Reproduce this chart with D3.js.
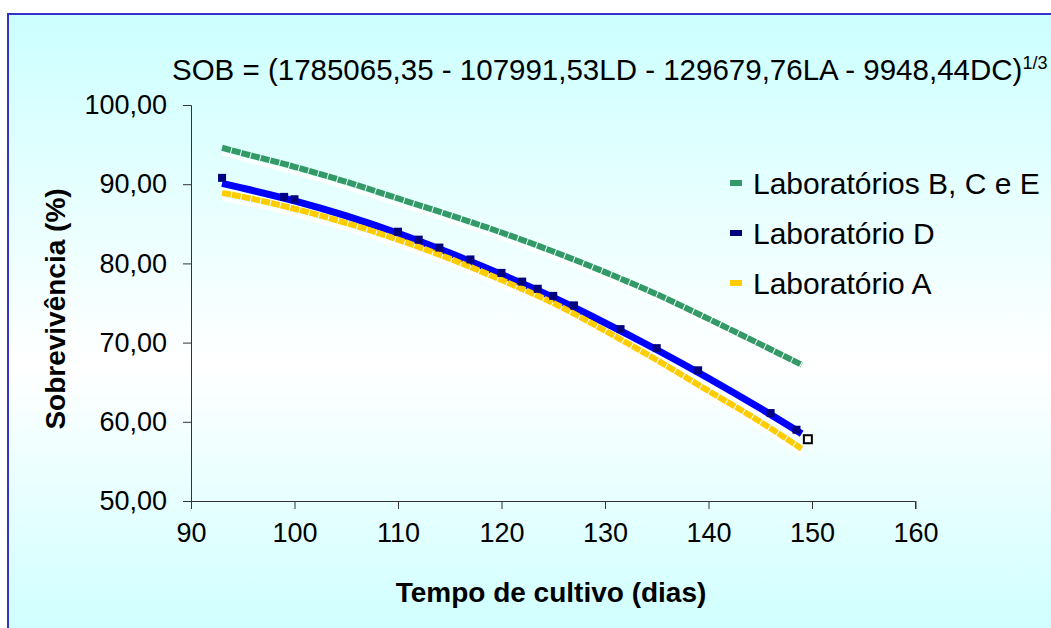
<!DOCTYPE html>
<html>
<head>
<meta charset="utf-8">
<script src="https://cdn.jsdelivr.net/npm/d3@7"></script>
<style>
  body { margin: 0; background: #fff; }
  svg text { font-family: "Liberation Sans", Arial, sans-serif; fill: #000; }
</style>
</head>
<body>
<div id="chart"></div>
<script>
// days of culture (x) and survival (%)
var days = [93, 95, 100, 105, 110, 115, 120, 125, 130, 135, 140, 145, 149];
var labBCE = [94.6, 93.9, 92.2, 90.3, 88.2, 86.1, 83.9, 81.5, 78.9, 76.1, 73.0, 69.8, 67.2];
var labD   = [90.1, 89.5, 87.9, 86.0, 83.8, 81.3, 78.6, 75.7, 72.5, 69.1, 65.5, 61.7, 58.5];
var labA   = [88.9, 88.4, 86.9, 85.1, 83.0, 80.6, 77.9, 75.0, 71.5, 67.8, 63.9, 60.0, 56.6];

// dark square markers sitting on the Laboratório D line
var markD = [[93, 90.8], [99, 88.4], [100, 88.1], [110, 84.0], [112, 83.0], [114, 82.0],
             [117, 80.5], [120, 78.8], [122, 77.7], [123.5, 76.8], [125, 75.9], [127, 74.7],
             [131.5, 71.7], [135, 69.3], [139, 66.5], [146, 61.1], [148.5, 59.0], [149.6, 57.8]];

var seriesNames = ["Laboratórios B, C e E", "Laboratório D", "Laboratório A"];
var seriesColors = ["#339966", "#000080", "#ffcc00"];

var xTicks = [90, 100, 110, 120, 130, 140, 150, 160];
var yTicks = [50, 60, 70, 80, 90, 100];

var width = 1051, height = 628;

var svg = d3.select("#chart")
  .append("svg")
  .attr("width", width)
  .attr("height", height);

// chart area gradient
var grad = svg.append("defs").append("linearGradient")
  .attr("id", "bg")
  .attr("x1", 0).attr("y1", 0).attr("x2", 0).attr("y2", 1);
grad.append("stop").attr("offset", "0%").attr("stop-color", "#ccffff");
grad.append("stop").attr("offset", "55%").attr("stop-color", "#ffffff");
grad.append("stop").attr("offset", "100%").attr("stop-color", "#ccffff");

svg.append("rect")
  .attr("x", 8).attr("y", 14)
  .attr("width", width + 10).attr("height", height + 10)
  .attr("fill", "url(#bg)")
  .attr("stroke", "#3333cc")
  .attr("stroke-width", 2);

var x = d3.scaleLinear().domain([90, 160]).range([191, 915.5]);
var y = d3.scaleLinear().domain([50, 100]).range([501, 105]);

// axes
var xAxis = svg.append("g")
  .attr("transform", "translate(0,501)")
  .call(d3.axisBottom(x).tickValues(xTicks).tickSize(8).tickFormat(d3.format("d")));
var yAxis = svg.append("g")
  .attr("transform", "translate(191,0)")
  .call(d3.axisLeft(y).tickValues(yTicks).tickSize(8)
    .tickFormat(function(d) { return d3.format(".2f")(d).replace(".", ","); }));

xAxis.select(".domain").attr("d", "M183,0.5H915.5V8");
yAxis.select(".domain").attr("d", "M-8,105.5H0.5V509");
svg.selectAll(".tick line").attr("stroke", "#333");
svg.selectAll(".domain").attr("stroke", "#333");

xAxis.selectAll("text")
  .attr("y", 22).attr("dy", "0.71em")
  .style("font-size", "27px")
  .style("font-family", "'Liberation Sans', Arial, sans-serif");
yAxis.selectAll("text")
  .attr("x", -24)
  .style("font-size", "27px")
  .style("font-family", "'Liberation Sans', Arial, sans-serif");

// lines
var line = d3.line()
  .x(function(d) { return x(d[0]); })
  .y(function(d) { return y(d[1]); })
  .curve(d3.curveMonotoneX);

var allSeries = [labBCE, labD, labA];
var lineColors = ["#339966", "#0000ff", "#ffcc00"];

allSeries.forEach(function(vals, i) {
  var pts = days.map(function(d, j) { return [d, vals[j]]; });
  // faint white shadow under each line
  svg.append("path")
    .attr("d", line(pts))
    .attr("fill", "none")
    .attr("stroke", "#ffffff")
    .attr("stroke-width", 4)
    .attr("opacity", 0.9)
    .attr("transform", "translate(0,6)");
});

allSeries.forEach(function(vals, i) {
  var pts = days.map(function(d, j) { return [d, vals[j]]; });
  svg.append("path")
    .attr("d", line(pts))
    .attr("fill", "none")
    .attr("stroke", lineColors[i])
    .attr("stroke-width", i == 1 ? 7 : 6)
    .attr("stroke-dasharray", i == 1 ? null : "9,1");
});

svg.selectAll(".markD")
  .data(markD)
  .enter().append("rect")
  .attr("class", "markD")
  .attr("x", function(d) { return x(d[0]) - 4; })
  .attr("y", function(d) { return y(d[1]) - 4; })
  .attr("width", 8).attr("height", 8)
  .attr("fill", function(d, i) { return i == markD.length - 1 ? "#fff" : "#000080"; })
  .attr("stroke", function(d, i) { return i == markD.length - 1 ? "#000" : "none"; })
  .attr("stroke-width", 2);

// title with the fitted equation
var title = svg.append("text")
  .attr("x", 172).attr("y", 80)
  .style("font-size", "29.5px");
title.append("tspan").text("SOB = (1785065,35 - 107991,53LD - 129679,76LA - 9948,44DC)");
title.append("tspan").attr("dy", -11).style("font-size", "18px").text("1/3");

// axis titles
svg.append("text")
  .attr("transform", "translate(65,309) rotate(-90)")
  .attr("text-anchor", "middle")
  .style("font-size", "28px")
  .style("font-weight", "bold")
  .text("Sobrevivência (%)");

svg.append("text")
  .attr("x", 551).attr("y", 602)
  .attr("text-anchor", "middle")
  .style("font-size", "28px")
  .style("font-weight", "bold")
  .text("Tempo de cultivo (dias)");

// legend
var legend = svg.selectAll(".legend")
  .data(seriesNames)
  .enter().append("g")
  .attr("class", "legend")
  .attr("transform", function(d, i) { return "translate(730," + (194 + i * 50) + ")"; });

legend.append("rect")
  .attr("x", 0).attr("y", -14)
  .attr("width", 12).attr("height", 6)
  .attr("fill", function(d, i) { return seriesColors[i]; });

legend.append("text")
  .attr("x", 23).attr("y", 0)
  .style("font-size", "30px")
  .text(function(d) { return d; });
</script>
</body>
</html>
